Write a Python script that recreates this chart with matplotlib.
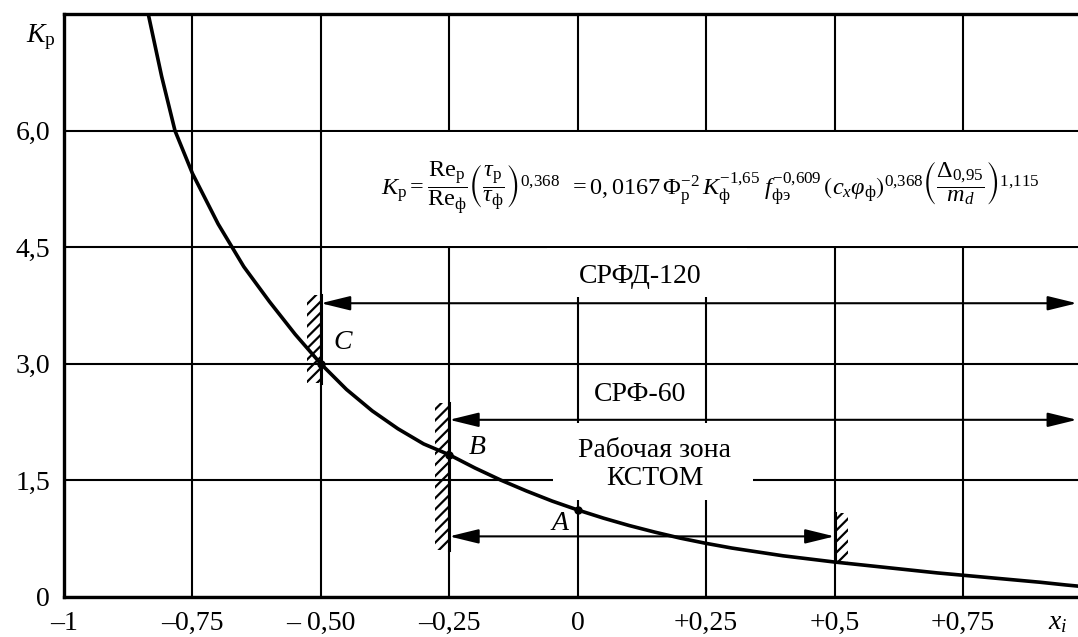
import numpy as np
import matplotlib.pyplot as plt
from matplotlib.patches import Rectangle

plt.rcParams['font.family'] = ['Liberation Serif', 'DejaVu Serif']
plt.rcParams['mathtext.fontset'] = 'custom'
plt.rcParams['mathtext.rm'] = 'Liberation Serif'
plt.rcParams['mathtext.it'] = 'Liberation Serif:italic'
plt.rcParams['mathtext.bf'] = 'Liberation Serif:bold'
plt.rcParams['mathtext.fallback'] = 'stix'
plt.rcParams['hatch.linewidth'] = 1.6

# --- data ---
x_curve = [-0.85, -0.836, -0.81, -0.784, -0.75, -0.70, -0.65, -0.60, -0.55, -0.5,
           -0.45, -0.40, -0.35, -0.30, -0.25, -0.20, -0.15, -0.10, -0.05, 0.0,
           0.05, 0.10, 0.15, 0.20, 0.25, 0.30, 0.35, 0.40, 0.45, 0.5,
           0.55, 0.60, 0.65, 0.70, 0.75, 0.80, 0.85, 0.90, 0.95, 0.974]
k_curve = [8.0, 7.5, 6.7, 6.0, 5.45, 4.8, 4.25, 3.8, 3.38, 3.0,
           2.67, 2.395, 2.165, 1.97, 1.83, 1.66, 1.505, 1.365, 1.235, 1.12,
           1.015, 0.92, 0.835, 0.757, 0.69, 0.63, 0.58, 0.53, 0.49, 0.45,
           0.415, 0.38, 0.345, 0.31, 0.28, 0.25, 0.22, 0.19, 0.155, 0.14]

point_names = ['C', 'B', 'A']
point_x = [-0.5, -0.25, 0.0]
point_k = [3.0, 1.83, 1.12]

# working ranges: start, end, level of the arrow
range_labels = ['СРФД-120', 'СРФ-60', 'Рабочая зона\nКСТОМ']
range_start = [-0.5, -0.25, -0.25]
range_end = [0.972, 0.972, 0.5]
range_level = [3.78, 2.28, 0.78]

# hatched stops: x, bottom, top
stop_x = [-0.5, -0.25, 0.5]
stop_lo = [2.75, 0.6, 0.45]
stop_hi = [3.88, 2.5, 1.08]

x_ticks = [-1, -0.75, -0.5, -0.25, 0, 0.25, 0.5, 0.75]
x_ticklabels = ['–1', '–0,75', '– 0,50', '–0,25', '0', '+0,25', '+0,5', '+0,75']
y_ticks = [0, 1.5, 3.0, 4.5, 6.0]
y_ticklabels = ['0', '1,5', '3,0', '4,5', '6,0']

fig = plt.figure(figsize=(10.78, 6.37), dpi=100)
ax = fig.add_axes([0.0594, 0.0628, 0.9406, 0.915])
ax.set_xlim(-1, 0.974)
ax.set_ylim(0, 7.5)

ax.set_xticks(x_ticks)
ax.set_xticklabels(x_ticklabels, fontsize=20)
ax.set_yticks(y_ticks)
ax.set_yticklabels(y_ticklabels, fontsize=20)
ax.tick_params(length=0, pad=10)
ax.set_axisbelow(True)
ax.grid(True, color='black', lw=1.5)
for side in ['left', 'bottom', 'top']:
    ax.spines[side].set_linewidth(2.4)
ax.spines['right'].set_visible(False)

# white boxes over the grid behind the formula and labels
ax.add_patch(Rectangle((-0.496, 4.515), 1.6, 1.47, facecolor='white', edgecolor='none', zorder=1))
ax.add_patch(Rectangle((-0.06, 3.86), 0.39, 0.625, facecolor='white', edgecolor='none', zorder=1))
ax.add_patch(Rectangle((-0.048, 1.25), 0.39, 0.99, facecolor='white', edgecolor='none', zorder=1))

# curve
ax.plot(x_curve, k_curve, color='black', lw=2.6, zorder=4, solid_joinstyle='round')
ax.plot(point_x, point_k, 'o', color='black', ms=5, zorder=5)

# hatched stops
for i in range(len(stop_x)):
    w = 0.027
    x0 = stop_x[i] - w if stop_x[i] < 0.3 else stop_x[i]
    ax.add_patch(Rectangle((x0, stop_lo[i]), w, stop_hi[i] - stop_lo[i], facecolor='none',
                           edgecolor='black', hatch='///', lw=0, zorder=3))
    ax.plot([stop_x[i], stop_x[i]], [stop_lo[i], stop_hi[i]], color='black', lw=2.2, zorder=3)

# arrows for the ranges
for i in range(len(range_labels)):
    ax.annotate('', xy=(range_end[i], range_level[i]), xytext=(range_start[i], range_level[i]),
                arrowprops=dict(arrowstyle='<|-|>,head_length=0.9,head_width=0.22',
                                color='black', lw=1.5, shrinkA=0, shrinkB=0,
                                mutation_scale=20), zorder=3, annotation_clip=False)

ax.text(0.121, 4.12, range_labels[0], fontsize=20, ha='center', va='center', zorder=5)
ax.text(0.121, 2.6, range_labels[1], fontsize=20, ha='center', va='center', zorder=5)
ax.text(0.15, 1.70, range_labels[2], fontsize=20, ha='center', va='center',
        linespacing=1.15, zorder=5)

ax.text(-0.457, 3.28, point_names[0], fontsize=20, style='italic', ha='center', va='center')
ax.text(-0.196, 1.92, point_names[1], fontsize=20, style='italic', ha='center', va='center')
ax.text(-0.034, 0.95, point_names[2], fontsize=20, style='italic', ha='center', va='center')

formula = (r'$K_{\mathrm{р}}=\dfrac{\mathrm{Re}_{\mathrm{р}}}{\mathrm{Re}_{\mathrm{ф}}}'
           r'\left(\dfrac{\tau_{\mathrm{р}}}{\tau_{\mathrm{ф}}}\right)^{0{,}368}\;\;'
           r'=0,0167\,\Phi_{\mathrm{р}}^{-2}\,K_{\mathrm{ф}}^{-1{,}65}\;f_{\mathrm{фэ}}^{-0{,}609}\,'
           r'\left(c_x\varphi_{\mathrm{ф}}\right)^{0{,}368}'
           r'\left(\dfrac{\Delta_{0{,}95}}{m_d}\right)^{1{,}115}$')
ax.text(0.258, 5.26, formula, fontsize=17.5, ha='center', va='center', zorder=5)

ax.text(-1.045, 7.2, r'$K_{\mathrm{р}}$', fontsize=20, ha='center', va='center', clip_on=False)
ax.text(0.915, -0.17, r'$x_i$', fontsize=20, ha='left', va='top', clip_on=False)

fig.savefig('out.png', dpi=100)
